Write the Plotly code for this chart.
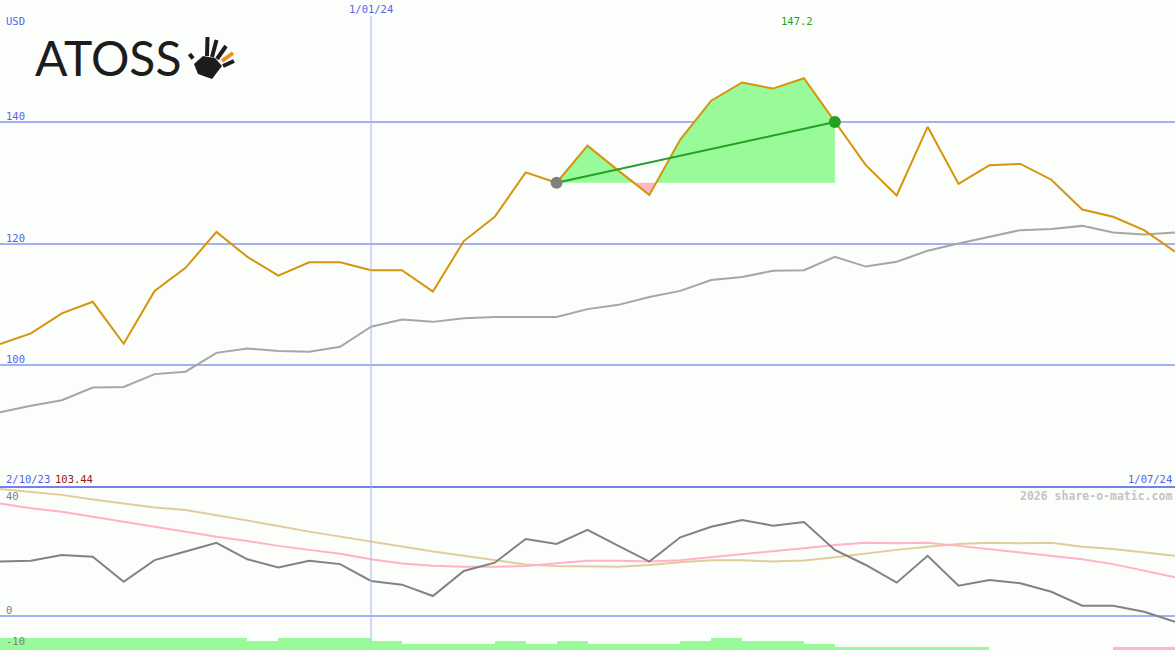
import plotly.graph_objects as go
import pandas as pd

# ---------------- data ----------------
dates = pd.date_range("2023-10-09", periods=39, freq="7D")

price = [103.44, 105.2, 108.5, 110.4, 103.5, 112.2, 116.0, 121.9, 117.8, 114.7,
         116.9, 116.9, 115.6, 115.6, 112.1, 120.4, 124.4, 131.7, 130.0, 136.1,
         132.0, 128.0, 137.1, 143.5, 146.5, 145.5, 147.2, 140.0, 132.9, 127.9,
         139.2, 129.8, 132.9, 133.1, 130.5, 125.6, 124.4, 122.2, 118.65]

benchmark = [92.2, 93.3, 94.2, 96.3, 96.4, 98.5, 98.9, 102.0, 102.7, 102.3,
             102.2, 103.0, 106.3, 107.5, 107.1, 107.7, 107.9, 107.9, 107.9, 109.2,
             109.9, 111.2, 112.2, 114.0, 114.5, 115.5, 115.6, 117.8, 116.2, 117.0,
             118.8, 120.0, 121.1, 122.2, 122.4, 122.9, 121.8, 121.5, 121.8]

oscillator = [19.1, 19.4, 21.4, 20.8, 12.0, 19.6, 22.6, 25.7, 19.9, 17.0,
              19.4, 18.2, 12.3, 11.0, 7.0, 15.8, 18.7, 27.0, 25.3, 30.2,
              24.6, 19.1, 27.6, 31.3, 33.7, 31.7, 33.0, 23.2, 17.9, 11.7,
              21.1, 10.6, 12.6, 11.5, 8.5, 3.6, 3.6, 1.5, -2.0]

osc_avg_fast = [39.5, 37.8, 36.6, 34.8, 33.1, 31.3, 29.6, 27.8, 26.3, 24.6,
                23.2, 21.8, 19.9, 18.4, 17.6, 17.3, 17.3, 17.5, 18.5, 19.4,
                19.4, 19.1, 19.6, 20.6, 21.8, 22.6, 23.8, 24.9, 25.7, 25.5,
                25.7, 24.6, 23.4, 22.2, 21.1, 19.9, 18.2, 15.9, 13.6]

osc_avg_slow = [44.6, 43.6, 42.5, 40.9, 39.5, 38.1, 37.2, 35.4, 33.4, 31.6,
                29.6, 27.8, 26.1, 24.4, 22.6, 21.1, 19.6, 18.1, 17.5, 17.3,
                17.3, 17.9, 18.9, 19.6, 19.6, 19.1, 19.5, 20.6, 22.0, 23.2,
                24.3, 25.3, 25.7, 25.5, 25.7, 24.3, 23.5, 22.2, 21.1]

# weekly signal strength bars (one per interval between two dates)
signal_levels = [4, 4, 4, 4, 4, 4, 4, 4, 3, 4,
                 4, 4, 3, 2, 2, 2, 3, 2, 3, 2,
                 2, 2, 3, 4, 3, 3, 2, 1, 1, 1,
                 1, 1, 0, 0, 0, 0, -1, -1]

trade_start = 18
trade_end = 27

x_start_label = "2/10/23"
x_mid_label = "1/01/24"
x_end_label = "1/07/24"
mid_idx = 12
currency = "USD"
upper_ticks = [100, 120, 140]
lower_ticks = [40, 0, -10]

# ---------------- styles ----------------
BG = "#fbfefb"
GRID = "#a4b0f2"
SEP = "#7282ea"
BLUE_TXT = "#5462f0"
ORANGE = "#d6940c"
GRAY_UP = "#a6a6a6"
GREEN_FILL = "#98fa98"
PINK_FILL = "#ffb6c8"
GREEN_LINE = "#24a024"
MONO = "DejaVu Sans Mono"

W, H = 1175, 650
SPLIT = 487
dom_split = 1 - SPLIT / H
up_range = [79.92, 160.08]
lo_range = [-11.93, 45.26]

fig = go.Figure()

# ---- trade area fill (between price and entry level) ----
base = price[trade_start]
xs, ys = [], []
for i in range(trade_start, trade_end + 1):
    xs.append(dates[i]); ys.append(price[i])
    if i < trade_end:
        a, b = price[i] - base, price[i + 1] - base
        if a * b < 0:
            t = a / (a - b)
            xs.append(dates[i] + (dates[i + 1] - dates[i]) * t); ys.append(base)
above = [max(v, base) for v in ys]
below = [min(v, base) for v in ys]
for vals, col in ((above, GREEN_FILL), (below, PINK_FILL)):
    fig.add_trace(go.Scatter(x=xs, y=[base] * len(xs), mode="lines",
                             line=dict(width=0), hoverinfo="skip", yaxis="y"))
    fig.add_trace(go.Scatter(x=xs, y=vals, mode="lines", line=dict(width=0),
                             fill="tonexty", fillcolor=col, hoverinfo="skip", yaxis="y"))

# ---- upper lines ----
fig.add_trace(go.Scatter(x=dates, y=benchmark, mode="lines",
                         line=dict(color=GRAY_UP, width=2), yaxis="y"))
fig.add_trace(go.Scatter(x=dates, y=price, mode="lines",
                         line=dict(color=ORANGE, width=2), yaxis="y"))
fig.add_trace(go.Scatter(x=[dates[trade_start], dates[trade_end]],
                         y=[price[trade_start], price[trade_end]], mode="lines",
                         line=dict(color=GREEN_LINE, width=2), yaxis="y"))
fig.add_trace(go.Scatter(x=[dates[trade_start]], y=[price[trade_start]], mode="markers",
                         marker=dict(color="#808080", size=12), yaxis="y"))
fig.add_trace(go.Scatter(x=[dates[trade_end]], y=[price[trade_end]], mode="markers",
                         marker=dict(color=GREEN_LINE, size=12), yaxis="y"))

# ---- lower panel ----
bar_x = list(dates[:-1])
fig.add_trace(go.Bar(x=bar_x, y=[abs(v) for v in signal_levels],
                     marker=dict(color=[GREEN_FILL if v > 0 else PINK_FILL for v in signal_levels],
                                 line=dict(width=0)),
                     width=7 * 24 * 3600 * 1000, offset=0, yaxis="y3"))
fig.add_trace(go.Scatter(x=dates, y=osc_avg_slow, mode="lines",
                         line=dict(color="#e2cc9a", width=2), yaxis="y2"))
fig.add_trace(go.Scatter(x=dates, y=osc_avg_fast, mode="lines",
                         line=dict(color="#ffb2c8", width=2), yaxis="y2"))
fig.add_trace(go.Scatter(x=dates, y=oscillator, mode="lines",
                         line=dict(color="#828282", width=2), yaxis="y2"))

# ---- annotations ----
ann = []
def txt(text, x, y, xref="paper", yref="paper", color=BLUE_TXT, size=10.5,
        xanchor="left", yanchor="middle", family=MONO, **kw):
    ann.append(dict(text=text, x=x, y=y, xref=xref, yref=yref, showarrow=False,
                    xanchor=xanchor, yanchor=yanchor,
                    font=dict(family=family, size=size, color=color), **kw))

def py(p):  # pixel row -> paper fraction
    return 1 - p / H

txt(currency, 4 / W, py(21))
for v in upper_ticks:
    txt(str(v), 4 / W, v, yref="y", yanchor="bottom", yshift=-2)
txt(x_mid_label, dates[mid_idx], py(9), xref="x", xanchor="center")
txt(f"{max(price):.1f}", dates[price.index(max(price))], py(21), xref="x",
    xanchor="center", color=GREEN_LINE, xshift=-7)
txt(x_start_label, 4 / W, py(479))
txt(f"{price[0]:.2f}", 53 / W, py(479), color="#a01818")
txt(x_end_label, 1174 / W, py(479), xanchor="right")
txt("2026 share-o-matic.com", 1174 / W, py(496), xanchor="right", color="#c4c4c4",
    size=11.5, family=MONO + ", monospace")
ann[-1]["font"]["weight"] = "bold"
for v, sh in zip(lower_ticks, (-2, -2, -4)):
    txt(str(v), 4 / W, v, yref="y2", yanchor="bottom", color="#808080", yshift=sh)

# logo
txt("ATOSS", 33 / W, py(57), color="#1c1c1c", size=48, family="Lato")

fig.update_layout(annotations=ann)

# ---- shapes: separator, vertical date line, hand logo ----
shapes = [
    dict(type="line", xref="paper", yref="paper", x0=0, x1=1, y0=dom_split, y1=dom_split,
         line=dict(color=SEP, width=2)),
    dict(type="line", xref="x", yref="paper", x0=dates[mid_idx], x1=dates[mid_idx],
         y0=py(16), y1=py(641), line=dict(color="#a8b4f6", width=1)),
]
def pth(pts):
    return "M " + " L ".join(f"{x / W:.5f},{py(y):.5f}" for x, y in pts) + " Z"
shapes.append(dict(type="path", xref="paper", yref="paper",
                   path=pth([(194, 64), (203, 56), (215, 58), (222, 66), (212, 79), (198, 74)]),
                   fillcolor="#1c1c1c", line=dict(width=0)))
for (x0, y0, x1, y1, c) in [(207.5, 37, 207, 56, "#1c1c1c"), (216.5, 40, 212, 57, "#1c1c1c"),
                            (226, 46, 217, 59, "#1c1c1c"), (233, 53, 222, 61, "#f0901c"),
                            (234, 61, 223, 66, "#1c1c1c"), (189.5, 54, 193, 58.5, "#1c1c1c")]:
    shapes.append(dict(type="line", xref="paper", yref="paper", x0=x0 / W, x1=x1 / W,
                       y0=py(y0), y1=py(y1), line=dict(color=c, width=4)))
fig.update_layout(shapes=shapes)

fig.update_layout(
    width=W, height=H, margin=dict(l=0, r=0, t=0, b=0),
    paper_bgcolor=BG, plot_bgcolor=BG, showlegend=False, bargap=0,
    xaxis=dict(range=[dates[0], dates[-1]], showticklabels=False, showgrid=False,
               zeroline=False, anchor="y2", fixedrange=True),
    yaxis=dict(domain=[dom_split, 1], range=up_range, tickvals=upper_ticks,
               showticklabels=False, gridcolor=GRID, gridwidth=2, zeroline=False),
    yaxis2=dict(domain=[0, dom_split], range=lo_range, tickvals=[0],
                showticklabels=False, gridcolor=GRID, gridwidth=2, zeroline=False),
    yaxis3=dict(overlaying="y2", range=[0, 53.1], visible=False),
)

fig.write_html("out.html", config={"displayModeBar": False},
               post_script="document.body.style.margin='0';document.body.style.overflow='hidden';")
